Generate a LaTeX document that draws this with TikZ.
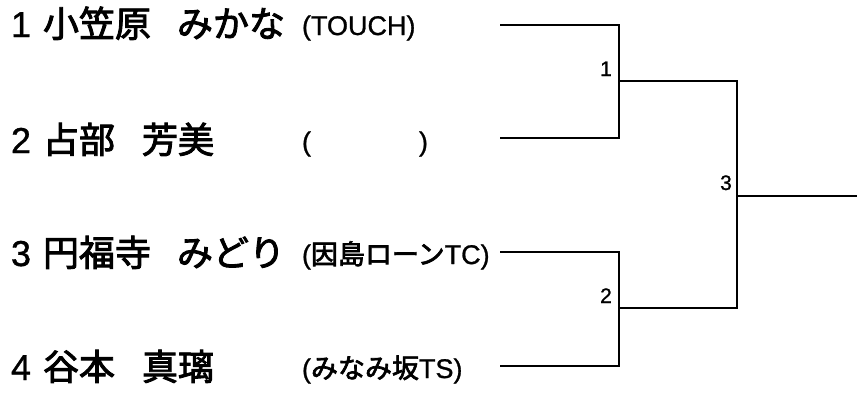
\documentclass[tikz,border=0pt]{standalone}
\usepackage{fontspec}
\setmainfont{Liberation Sans}[FakeBold=1]
\newfontfamily\cjk{Noto Sans CJK JP}[FakeBold=2.5]
\begin{document}
\begin{tikzpicture}[x=1pt,y=-1pt,
  txt/.style={inner sep=0pt,outer sep=0pt,anchor=base west},
  namefont/.style={font=\fontsize{36}{40}\selectfont},
  clubfont/.style={font=\fontsize{27}{32}\selectfont},
  numfont/.style={inner sep=0pt,anchor=base east,font=\fontsize{21}{24}\selectfont},
  bline/.style={line width=2.2pt,line cap=rect,black}]
\useasboundingbox[fill=white] (0,0) rectangle (859,394);
% players
\node[txt,namefont] (n1) at (11,37) {1};
\node[txt,namefont] (f1) at (43,37) {\cjk 小笠原};
\node[txt,namefont] (g1) at (177,37) {\cjk みかな};
\node[txt,clubfont] (c1) at (302,35) {(TOUCH)};
\node[txt,namefont] (n2) at (11,153) {2};
\node[txt,namefont] (f2) at (43,153) {\cjk 占部};
\node[txt,namefont] (g2) at (142,153) {\cjk 芳美};
\node[txt,clubfont] (c2) at (302,151) {(\hspace{108pt})};
\node[txt,namefont] (n3) at (11,266) {3};
\node[txt,namefont] (f3) at (43,266) {\cjk 円福寺};
\node[txt,namefont] (g3) at (177,266) {\cjk みどり};
\node[txt,clubfont] (c3) at (302,264) {({\cjk 因島ローン}TC)};
\node[txt,namefont] (n4) at (11,380) {4};
\node[txt,namefont] (f4) at (43,380) {\cjk 谷本};
\node[txt,namefont] (g4) at (142,380) {\cjk 真璃};
\node[txt,clubfont] (c4) at (302,378) {({\cjk みなみ坂}TS)};
% bracket points
\coordinate (p1) at (501,25);
\coordinate (p2) at (501,138);
\coordinate (p3) at (501,252);
\coordinate (p4) at (501,366);
\coordinate (m1) at (619,81);
\coordinate (m2) at (619,308);
\coordinate (fi) at (737,196);
\coordinate (w) at (856,196);
\draw[bline] (p1) -| (m1) |- (p2);
\draw[bline] (p3) -| (m2) |- (p4);
\draw[bline] (m1) -| (fi) |- (m2);
\draw[bline] (fi) -- (w);
% match labels
\node[numfont] (l1) at (612,76) {1};
\node[numfont] (l2) at (612,303) {2};
\node[numfont] (l3) at (732,190) {3};
\end{tikzpicture}
\end{document}
